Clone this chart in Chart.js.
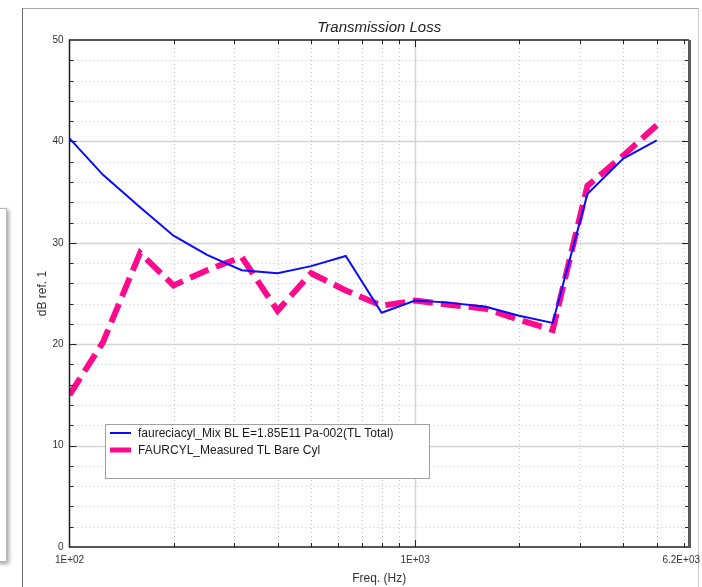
<!DOCTYPE html>
<html>
<head>
<meta charset="utf-8">
<script src="https://cdn.jsdelivr.net/npm/chart.js@4/dist/chart.umd.min.js"></script>
<style>
  html, body { margin: 0; padding: 0; background: #ffffff; width: 702px; height: 587px; overflow: hidden; }
  #panel { position: absolute; left: -100px; top: 208px; width: 105px; height: 352px; background: #fff;
           border: 1px solid #b8b8b8; box-shadow: 2px 2px 4px rgba(0,0,0,0.35); }
  #frame { position: absolute; left: 22px; top: 8px; width: 675px; height: 620px; background: #fff;
           border-left: 1px solid #6a6a6a; border-top: 1px solid #a8a8a8; border-right: 1px solid #c8c8c8; }
  #c { position: absolute; left: 0; top: 0; }
</style>
</head>
<body>
<div id="panel"></div>
<div id="frame"></div>
<canvas id="c" width="702" height="587"></canvas>
<script>
// ---- data ----
const freqs = [100, 125, 160, 200, 250, 315, 400, 500, 630, 800, 1000, 1250, 1600, 2000, 2500, 3150, 4000, 5000];
const simulatedTL = [40.3, 36.7, 33.5, 30.7, 28.8, 27.3, 27.0, 27.7, 28.7, 23.1, 24.3, 24.1, 23.7, 22.8, 22.1, 34.8, 38.3, 40.1];
const measuredTL  = [15.0, 20.2, 29.0, 25.8, 27.3, 28.6, 23.3, 27.0, 25.3, 23.8, 24.3, 23.9, 23.5, 22.4, 21.4, 35.6, 38.6, 41.6];
const seriesNames = ['faureciacyl_Mix BL E=1.85E11 Pa-002(TL Total)', 'FAURCYL_Measured TL Bare Cyl'];
const xTickValues = [100, 200, 300, 400, 500, 600, 700, 800, 900, 1000, 2000, 3000, 4000, 5000, 6000, 6200];
const xTickLabels = { 100: '1E+02', 1000: '1E+03', 6200: '6.2E+03' };
const yTickValues = [0, 2, 4, 6, 8, 10, 12, 14, 16, 18, 20, 22, 24, 26, 28, 30, 32, 34, 36, 38, 40, 42, 44, 46, 48, 50];
const yLabelled = [0, 10, 20, 30, 40, 50];
const chartTitle = 'Transmission Loss';
const xTitle = 'Freq. (Hz)';
const yTitle = 'dB ref. 1';

const FONT = '"Liberation Sans", Arial, sans-serif';

const gridPlugin = {
  id: 'customGrid',
  beforeDatasetsDraw(chart) {
    const { ctx, chartArea: a, scales: { x, y } } = chart;
    ctx.save();
    yTickValues.forEach(v => {
      if (v === 0 || v === 50) return;
      const py = Math.round(y.getPixelForValue(v)) + 0.5;
      ctx.beginPath();
      if (v % 10 === 0) { ctx.setLineDash([]); ctx.strokeStyle = '#d4d4d4'; ctx.lineWidth = 1.5; }
      else { ctx.setLineDash([1, 3]); ctx.strokeStyle = '#c4c4c4'; ctx.lineWidth = 1; }
      ctx.moveTo(a.left, py); ctx.lineTo(a.right, py); ctx.stroke();
    });
    xTickValues.forEach(v => {
      if (v === 100 || v === 6200) return;
      const px = Math.round(x.getPixelForValue(v)) + 0.5;
      ctx.beginPath();
      if (v === 1000) { ctx.setLineDash([]); ctx.strokeStyle = '#d4d4d4'; ctx.lineWidth = 1.5; }
      else { ctx.setLineDash([1, 3]); ctx.strokeStyle = '#c4c4c4'; ctx.lineWidth = 1; }
      ctx.moveTo(px, a.top); ctx.lineTo(px, a.bottom); ctx.stroke();
    });
    ctx.restore();
  },
  afterDatasetsDraw(chart) {
    const { ctx, chartArea: a, scales: { x, y } } = chart;
    ctx.save();
    ctx.setLineDash([]);
    ctx.strokeStyle = '#222'; ctx.lineWidth = 1;
    yTickValues.forEach(v => {
      if (v === 0 || v === 50) return;
      const py = Math.round(y.getPixelForValue(v)) + 0.5;
      const len = v % 10 === 0 ? 7 : 4;
      ctx.beginPath();
      ctx.moveTo(a.left, py); ctx.lineTo(a.left + len, py);
      ctx.moveTo(a.right, py); ctx.lineTo(a.right - len, py);
      ctx.stroke();
    });
    xTickValues.forEach(v => {
      if (v === 100 || v === 6200) return;
      const px = Math.round(x.getPixelForValue(v)) + 0.5;
      const len = v === 1000 ? 7 : 4;
      ctx.beginPath();
      ctx.moveTo(px, a.bottom); ctx.lineTo(px, a.bottom - len);
      ctx.moveTo(px, a.top); ctx.lineTo(px, a.top + len);
      ctx.stroke();
    });
    ctx.strokeStyle = '#1e1e1e'; ctx.lineWidth = 1.5;
    ctx.beginPath();
    ctx.moveTo(a.right, a.top); ctx.lineTo(a.left, a.top); ctx.lineTo(a.left, a.bottom); ctx.lineTo(a.right, a.bottom);
    ctx.stroke();
    ctx.strokeStyle = '#5a5a5a'; ctx.lineWidth = 3;
    ctx.beginPath(); ctx.moveTo(a.right + 0.5, a.top); ctx.lineTo(a.right + 0.5, a.bottom + 1); ctx.stroke();

    // x tick labels (kept inside the frame like the reference)
    ctx.fillStyle = '#333';
    ctx.font = '10px ' + FONT;
    ctx.textBaseline = 'middle'; ctx.textAlign = 'center';
    Object.keys(xTickLabels).forEach(k => {
      const txt = xTickLabels[k];
      const w = ctx.measureText(txt).width;
      let cx = x.getPixelForValue(Number(k));
      cx = Math.min(cx, 700 - w / 2);
      ctx.fillText(txt, cx, a.bottom + 13);
    });

    // title
    ctx.fillStyle = '#222';
    ctx.font = 'italic 15px ' + FONT;
    ctx.textAlign = 'center'; ctx.textBaseline = 'middle';
    ctx.fillText(chartTitle, (a.left + a.right) / 2, 28);

    // legend box
    const lx = 105, ly = 424, lw = 324, lh = 54;
    ctx.fillStyle = '#ffffff';
    ctx.fillRect(lx, ly, lw, lh);
    ctx.strokeStyle = '#a0a0a0'; ctx.lineWidth = 1;
    ctx.strokeRect(lx + 0.5, ly + 0.5, lw, lh);
    chart.data.datasets.forEach((ds, i) => {
      const cy = ly + 9 + i * 17;
      ctx.strokeStyle = ds.borderColor;
      ctx.lineWidth = i === 0 ? 2 : 5;
      ctx.setLineDash([]);
      ctx.beginPath(); ctx.moveTo(lx + 5, cy); ctx.lineTo(lx + 26, cy); ctx.stroke();
      ctx.fillStyle = '#1a1a1a';
      ctx.font = '12px ' + FONT;
      ctx.textAlign = 'left'; ctx.textBaseline = 'middle';
      ctx.fillText(ds.label, lx + 33, cy + 1);
    });
    ctx.restore();
  }
};

new Chart(document.getElementById('c'), {
  type: 'line',
  data: {
    datasets: [
      {
        label: seriesNames[0],
        data: freqs.map((f, i) => ({ x: f, y: simulatedTL[i] })),
        borderColor: '#0a0aff',
        borderWidth: 2,
        pointRadius: 0,
        tension: 0,
        fill: false
      },
      {
        label: seriesNames[1],
        data: freqs.map((f, i) => ({ x: f, y: measuredTL[i] })),
        borderColor: '#ff0a8c',
        borderWidth: 6,
        borderDash: [20, 8],
        borderCapStyle: 'butt',
        pointRadius: 0,
        tension: 0,
        fill: false
      }
    ]
  },
  options: {
    responsive: false,
    animation: false,
    devicePixelRatio: 1,
    layout: { padding: { left: 0, top: 40, right: 13, bottom: 0 } },
    plugins: { legend: { display: false }, title: { display: false }, tooltip: { enabled: false } },
    scales: {
      x: {
        type: 'logarithmic',
        min: 100, max: 6200,
        afterBuildTicks: s => { s.ticks = xTickValues.map(v => ({ value: v })); },
        afterFit: s => { s.height = 40; s.paddingLeft = 0; s.paddingRight = 0; },
        grid: { display: false, drawTicks: false },
        border: { display: false },
        ticks: { display: false, autoSkip: false, maxRotation: 0, minRotation: 0 },
        title: { display: true, text: xTitle, color: '#333', font: { family: FONT, size: 12 }, padding: { top: 1, bottom: 1 } }
      },
      y: {
        type: 'linear',
        min: 0, max: 50,
        afterBuildTicks: s => { s.ticks = yTickValues.map(v => ({ value: v })); },
        afterFit: s => { s.width = 69.5; s.paddingTop = 0; s.paddingBottom = 0; },
        grid: { display: false, drawTicks: false },
        border: { display: false },
        ticks: {
          autoSkip: false, padding: 6,
          color: '#333', font: { family: FONT, size: 10 },
          callback: v => yLabelled.includes(v) ? String(v) : ''
        },
        title: { display: true, text: yTitle, color: '#333', font: { family: FONT, size: 12 }, padding: { top: 35, bottom: 35 } }
      }
    }
  },
  plugins: [gridPlugin]
});
</script>
</body>
</html>
